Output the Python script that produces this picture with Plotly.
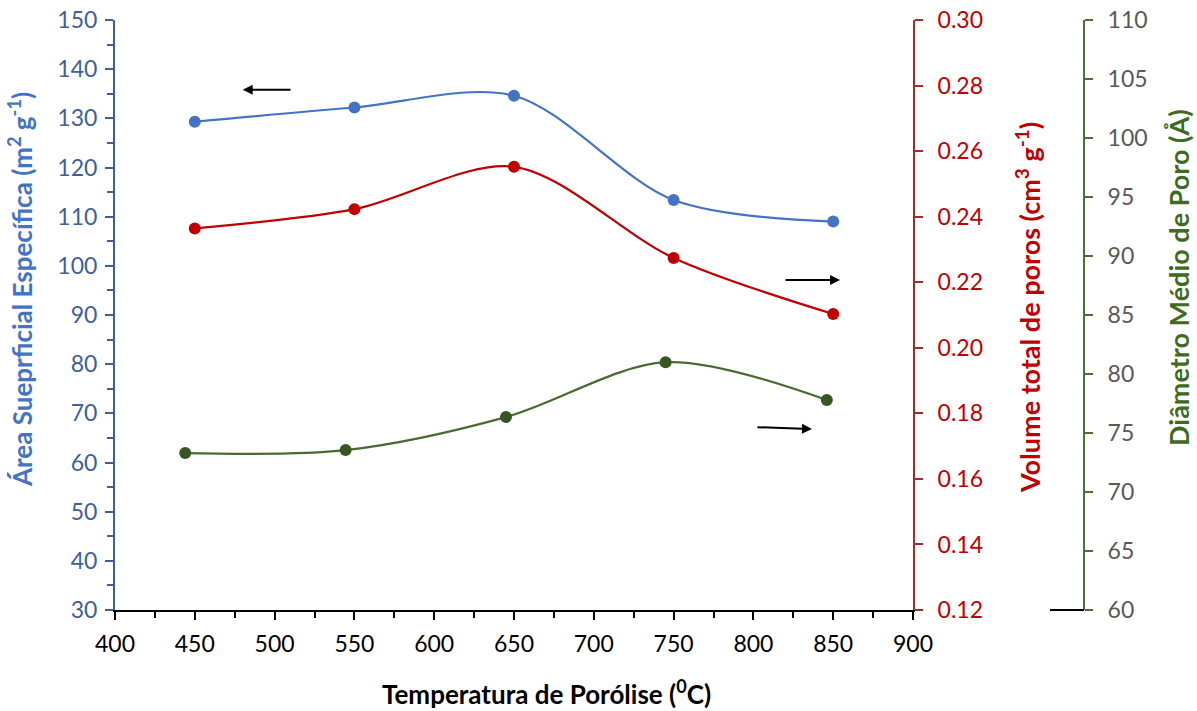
import plotly.graph_objects as go

temp = [450, 550, 650, 750, 850]
temp_green = [444, 544.5, 645, 745, 846]
area = [129.3, 132.2, 134.6, 113.4, 109.0]
volume = [0.2364, 0.2423, 0.2552, 0.2274, 0.2103]
diameter = [73.3, 73.55, 76.35, 81.0, 77.8]

BLUE = "#4472C4"
BLUE_AX = "#3F5F9A"
RED = "#C00000"
RED_AX = "#A52A2A"
GREEN = "#375623"
GREEN_LINE = "#4A6A35"
GREEN_AX = "#4E6B3A"
FONT = "Lato"
TICK = 23

W, H = 1197, 711
ML, MR, MT, MB = 115, 113, 20, 101
PW = W - ML - MR
PH = H - MT - MB
xdom_end = (913 - ML) / PW

fig = go.Figure()
fig.add_trace(go.Scatter(x=temp, y=area, mode="lines+markers",
                         line=dict(color=BLUE, width=2.2, shape="spline", smoothing=0.9),
                         marker=dict(color=BLUE, size=12), yaxis="y", showlegend=False))
fig.add_trace(go.Scatter(x=temp, y=volume, mode="lines+markers",
                         line=dict(color=RED, width=2.2, shape="spline", smoothing=0.9),
                         marker=dict(color=RED, size=12), yaxis="y2", showlegend=False))
fig.add_trace(go.Scatter(x=temp_green, y=diameter, mode="lines+markers",
                         line=dict(color=GREEN_LINE, width=2.2, shape="spline", smoothing=0.9),
                         marker=dict(color=GREEN, size=12), yaxis="y3", showlegend=False))

fig.update_layout(
    width=W, height=H,
    margin=dict(l=ML, r=MR, t=MT, b=MB, autoexpand=False),
    plot_bgcolor="white", paper_bgcolor="white",
    font=dict(family=FONT, size=20),
    xaxis=dict(range=[400, 900], domain=[0, xdom_end], dtick=50, tick0=400,
               showline=True, linecolor="black", linewidth=2, automargin=False,
               ticks="outside", ticklen=8, tickcolor="black", tickwidth=2,
               minor=dict(dtick=25, ticks="outside", ticklen=6, tickcolor="black", tickwidth=2),
               showgrid=False, zeroline=False, ticklabelstandoff=4,
               tickfont=dict(color="black", size=TICK, family=FONT)),
    yaxis=dict(range=[30, 150], dtick=10, tick0=30, automargin=False,
               showline=True, linecolor=BLUE_AX, linewidth=2,
               ticks="outside", ticklen=8, tickcolor=BLUE_AX, tickwidth=2,
               minor=dict(dtick=5, ticks="outside", ticklen=6, tickcolor=BLUE_AX, tickwidth=2),
               showgrid=False, zeroline=False, ticklabelstandoff=3,
               tickfont=dict(color=BLUE_AX, size=TICK, family=FONT)),
    yaxis2=dict(range=[0.12, 0.30], dtick=0.02, tick0=0.12, tickformat=".2f",
                overlaying="y", side="right", anchor="x", automargin=False,
                showline=True, linecolor=RED_AX, linewidth=2,
                ticks="outside", ticklen=8, tickcolor=RED_AX, tickwidth=2,
                showgrid=False, zeroline=False, ticklabelstandoff=10,
                tickfont=dict(color=RED, size=TICK, family=FONT)),
    yaxis3=dict(range=[60, 110], dtick=5, tick0=60,
                overlaying="y", side="right", anchor="free", position=1.0, automargin=False,
                showline=True, linecolor=GREEN_AX, linewidth=2,
                ticks="outside", ticklen=8, tickcolor=GREEN_AX, tickwidth=2,
                showgrid=False, zeroline=False, ticklabelstandoff=10,
                tickfont=dict(color="#595959", size=TICK, family=FONT)),
)

# axis titles
fig.add_annotation(text="<b>Área Sueprficial Específica (m<sup>2</sup> g<sup>-1</sup>)</b>",
                   xref="paper", yref="paper", x=(20 - ML) / PW, y=1 - (290 - MT) / PH,
                   xanchor="center", yanchor="middle",
                   textangle=-90, showarrow=False, font=dict(color=BLUE, size=26, family=FONT))
fig.add_annotation(text="<b>Volume total de poros (cm<sup>3</sup> g<sup>-1</sup>)</b>",
                   xref="paper", yref="paper", x=(1028 - ML) / PW, y=1 - (308 - MT) / PH,
                   xanchor="center", yanchor="middle",
                   textangle=-90, showarrow=False, font=dict(color=RED, size=27, family=FONT))
fig.add_annotation(text="<b>Diâmetro Médio de Poro (Å)</b>",
                   xref="paper", yref="paper", x=(1178 - ML) / PW, y=1 - (278 - MT) / PH,
                   xanchor="center", yanchor="middle",
                   textangle=-90, showarrow=False, font=dict(color="#3D6B21", size=27, family=FONT))
fig.add_annotation(text="<b>Temperatura de Porólise (<sup>0</sup>C)</b>",
                   xref="paper", yref="paper", x=(546 - ML) / PW, y=1 - (693 - MT) / PH,
                   xanchor="center", yanchor="middle",
                   showarrow=False, font=dict(color="black", size=26, family=FONT))

# direction arrows
arrows = [((510.9, 135.8), (480.0, 135.8)),
          ((819.2, 97.1), (854.3, 97.1)),
          ((801.6, 67.2), (836.7, 66.8))]
for (tx, ty), (hx, hy) in arrows:
    fig.add_annotation(x=hx, y=hy, ax=tx, ay=ty, xref="x", yref="y", axref="x", ayref="y",
                       showarrow=True, arrowhead=2, arrowsize=1, arrowwidth=2,
                       arrowcolor="black", text="")

# small horizontal base line at the foot of the third axis
fig.add_shape(type="line", xref="paper", yref="paper",
              x0=(1050 - ML) / PW, x1=1.0, y0=0, y1=0,
              line=dict(color="black", width=2))

fig.write_html("out.html")
